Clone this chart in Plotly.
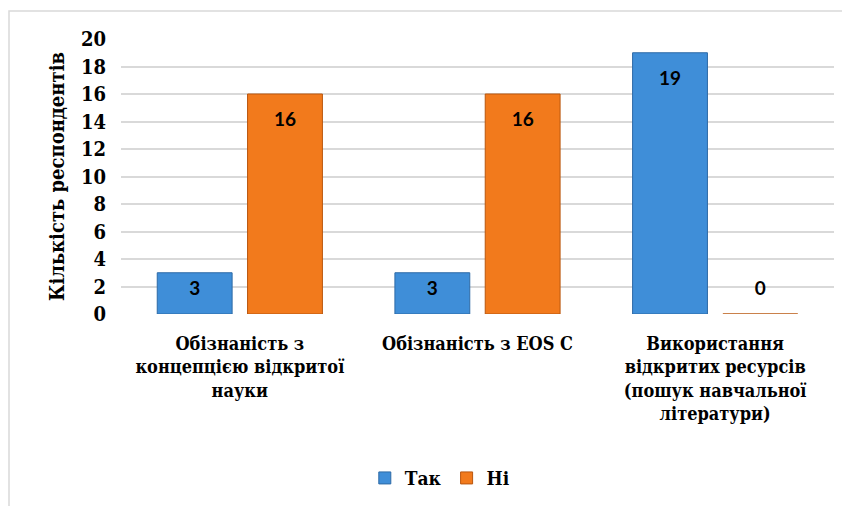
import plotly.graph_objects as go

categories = [
    "Обізнаність з<br>концепцією відкритої<br>науки",
    "Обізнаність з EOS C",
    "Використання<br>відкритих ресурсів<br>(пошук навчальної<br>літератури)",
]
series_names = ["Так", "Ні"]
tak_values = [3, 3, 19]
ni_values = [16, 16, 0]
y_ticks = [0, 2, 4, 6, 8, 10, 12, 14, 16, 18, 20]

colors = ["#3f8ed8", "#f27a1c"]
edge_colors = ["#2d6aa6", "#b9560e"]
offsets = [-0.19, 0.19]
bar_w = 0.315

serif = "DejaVu Serif Condensed, DejaVu Serif"
sans = "Lato"

fig = go.Figure()
idx = list(range(len(categories)))
for name, vals, col, ecol, off in zip(series_names, [tak_values, ni_values], colors, edge_colors, offsets):
    xs = [i + off for i in idx]
    fig.add_trace(go.Bar(
        x=xs, y=vals, name=name, width=bar_w,
        marker=dict(color=col, line=dict(color=ecol, width=1)),
    ))
    fig.add_trace(go.Scatter(
        x=xs, y=[max(v - 2, 1.75) for v in vals], text=[str(v) for v in vals],
        mode="text", showlegend=False, hoverinfo="skip",
        textfont=dict(family=sans, size=19, color="black", weight="bold"),
    ))

L, T, PW, PH = 113, 31, 713, 275
fig.update_layout(
    width=850, height=506,
    font=dict(family=serif),
    margin=dict(l=L, r=850 - L - PW, t=T, b=506 - T - PH, autoexpand=False),
    paper_bgcolor="white", plot_bgcolor="white",
    barmode="overlay",
    xaxis=dict(
        range=[-0.5, 2.5], tickvals=idx, ticktext=categories, tickangle=0,
        showgrid=False, zeroline=False, showline=False, ticks="",
        ticklabelstandoff=17,
        tickfont=dict(family=serif, size=18, color="black", weight="bold"),
    ),
    yaxis=dict(
        range=[0, 20], tickvals=y_ticks, showgrid=True, gridcolor="#d9d9d9", gridwidth=1.5,
        zeroline=False, showline=False, ticks="",
        ticklabelstandoff=14,
        tickfont=dict(family=serif, size=20, color="black", weight="bold"),
        title=dict(text="Кількість респондентів", standoff=10,
                   font=dict(family=serif, size=20, color="black", weight="bold")),
    ),
    legend=dict(
        orientation="h", xref="container", x=0.508, xanchor="center",
        yref="container", y=0.071, yanchor="middle",
        font=dict(family=serif, size=19, color="black", weight="bold"),
        itemwidth=30,
    ),
    shapes=[dict(type="rect", xref="paper", yref="paper",
                 x0=-(L - 1) / PW, x1=1 + 40 / PW, y0=-220 / PH, y1=(PH + T - 3) / PH,
                 line=dict(color="#d9d9d9", width=1.5), layer="below")],
)
fig.write_html("out.html")
